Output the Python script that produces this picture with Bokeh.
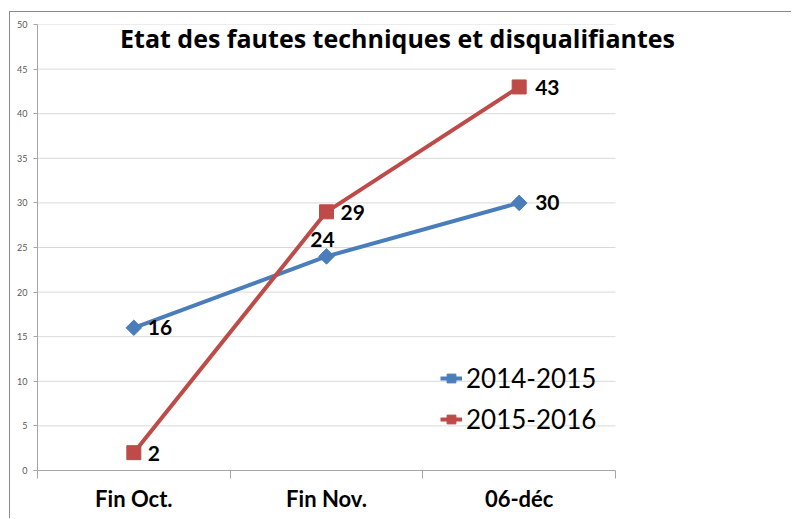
import math
from bokeh.plotting import figure
from bokeh.models import (Range1d, FixedTicker, ColumnDataSource, Legend, LegendItem,
                          Label, LabelSet)
from bokeh.core.properties import value
from bokeh.embed import file_html
from bokeh.resources import INLINE

# ---- data ----
categories = ["Fin Oct.", "Fin Nov.", "06-déc"]
series_names = ["2014-2015", "2015-2016"]
values_2014_2015 = [16, 24, 30]
values_2015_2016 = [2, 29, 43]
y_ticks = [0, 5, 10, 15, 20, 25, 30, 35, 40, 45, 50]
title_text = "Etat des fautes techniques et disqualifiantes"

# ---- style ----
BLUE = "#4A7EBB"
RED = "#BE4B48"
FONT = "Lato"
OFF_X, OFF_Y = 10, 12          # chart-area frame offset (margin + border)
W, H = 792 - OFF_X, 519 - OFF_Y
LEFT, TOP, BOTTOM = 37 - OFF_X, 24 - OFF_Y, 49
CAT_PX = 192.67  # pixel width of one category slot

xs = list(range(len(categories)))
n = len(categories)
x_end = -0.5 + (W - LEFT) / CAT_PX  # frame extends to the right edge

p = figure(width=W, height=H, output_backend="svg", toolbar_location=None,
           x_range=Range1d(-0.5, x_end), y_range=Range1d(0, 50),
           min_border_left=LEFT, min_border_right=0, min_border_top=TOP,
           min_border_bottom=BOTTOM)
p.outline_line_color = None
p.styles = {"margin-left": "9px", "margin-top": "11px",
            "border-left": "1px solid #8a8a8a", "border-top": "1px solid #8a8a8a"}

# grid (only across the category area)
p.xgrid.grid_line_color = None
p.ygrid.grid_line_color = None
p.segment(x0=-0.5, x1=n - 0.5, y0=y_ticks, y1=y_ticks, line_color="#D9D9D9", line_width=1)

# y axis
p.yaxis.ticker = FixedTicker(ticks=y_ticks)
p.yaxis.axis_line_color = "#A6A6A6"
p.yaxis.major_tick_line_color = "#A6A6A6"
p.yaxis.major_tick_out = 4
p.yaxis.major_tick_in = 0
p.yaxis.minor_tick_line_color = None
p.yaxis.major_label_text_font = FONT
p.yaxis.major_label_text_font_size = "9px"
p.yaxis.major_label_text_color = "#595959"
p.yaxis.major_label_standoff = 6

# x axis (ticks at category boundaries)
boundaries = [i - 0.5 for i in range(n + 1)]
p.xaxis.ticker = FixedTicker(ticks=xs, minor_ticks=boundaries)
p.xaxis.bounds = (-0.5, n - 0.5)
p.xaxis.major_label_overrides = {i: c for i, c in zip(xs, categories)}
p.xaxis.axis_line_color = "#A6A6A6"
p.xaxis.major_tick_line_color = None
p.xaxis.major_tick_out = 0
p.xaxis.minor_tick_line_color = "#A6A6A6"
p.xaxis.minor_tick_out = 8
p.xaxis.minor_tick_in = 0
p.xaxis.major_label_text_font = FONT
p.xaxis.major_label_text_font_style = "bold"
p.xaxis.major_label_text_font_size = "22px"
p.xaxis.major_label_text_color = "#000000"
p.xaxis.major_label_standoff = 6

# series
src1 = ColumnDataSource(dict(x=xs, y=values_2014_2015, t=[str(v) for v in values_2014_2015]))
src2 = ColumnDataSource(dict(x=xs, y=values_2015_2016, t=[str(v) for v in values_2015_2016]))

l1 = p.line("x", "y", source=src1, line_color=BLUE, line_width=4)
m1 = p.scatter("x", "y", source=src1, marker="square", size=11, angle=math.pi / 4,
               fill_color=BLUE, line_color=BLUE)
l2 = p.line("x", "y", source=src2, line_color=RED, line_width=4)
m2 = p.scatter("x", "y", source=src2, marker="square", size=14, fill_color=RED,
               line_color=RED)

# data labels
src1.data["dx"] = [14, -4, 16]
src1.data["dy"] = [0, 17, 0]
src1.data["al"] = ["left", "center", "left"]
src2.data["dx"] = [14, 14, 16]
src2.data["dy"] = [-1, -1, -1]
src2.data["al"] = ["left", "left", "left"]
for s in (src1, src2):
    p.add_layout(LabelSet(x="x", y="y", text="t", source=s, x_offset="dx", y_offset="dy",
                          text_align="al", text_baseline="middle", text_font=value(FONT),
                          text_font_style="bold", text_font_size="21px",
                          text_color="#000000"))

# title
p.add_layout(Label(x=1.3685, y=48.5, text=title_text, text_align="center",
                   text_baseline="middle", text_font="Open Sans", text_font_style="bold",
                   text_font_size="25px", text_color="#000000"))

# legend
legend = Legend(items=[LegendItem(label=series_names[0], renderers=[l1, m1]),
                       LegendItem(label=series_names[1], renderers=[l2, m2])],
                location=(403, 35), padding=0, spacing=9, glyph_width=22,
                glyph_height=30, label_height=30, label_standoff=4,
                label_text_font=FONT, label_text_font_size="26px",
                label_text_color="#000000", border_line_color=None,
                background_fill_alpha=0)
p.add_layout(legend)

open("out.html", "w").write(file_html(p, INLINE))
